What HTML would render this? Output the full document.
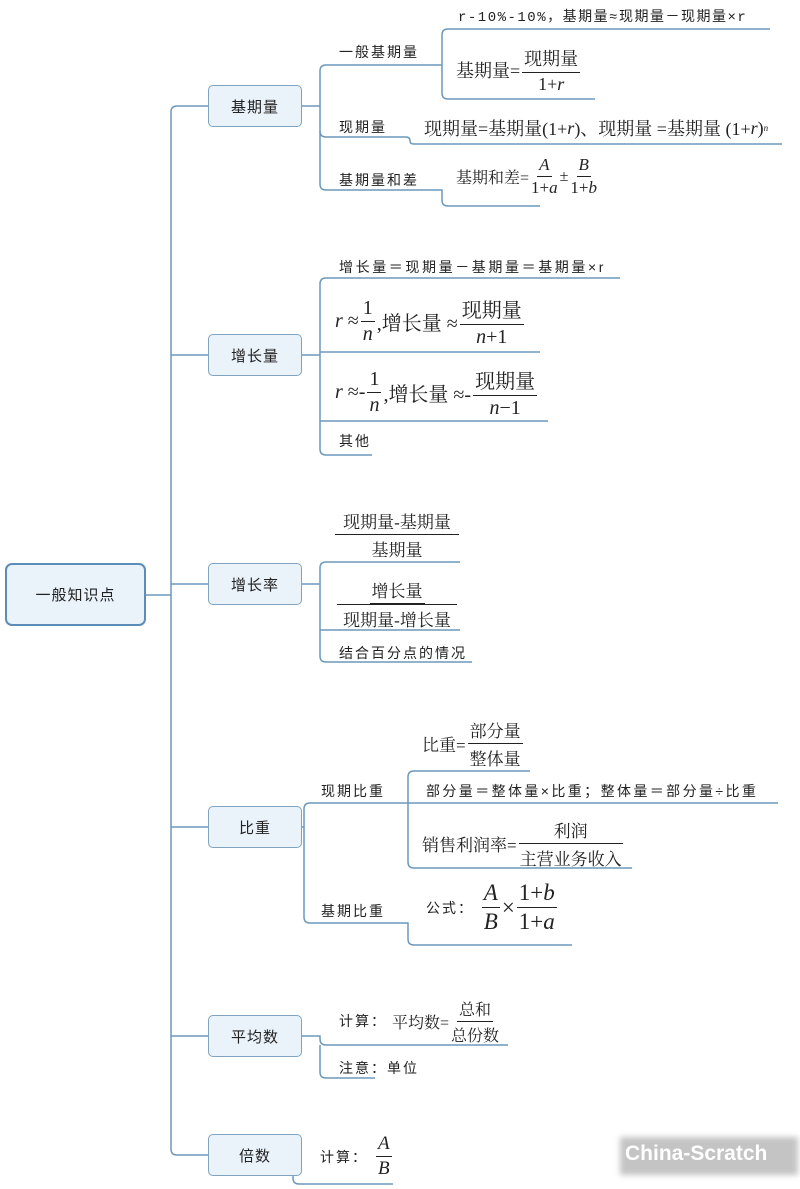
<!DOCTYPE html>
<html><head><meta charset="utf-8"><style>
html,body{margin:0;padding:0;background:#fff;}
body{width:800px;height:1189px;position:relative;overflow:hidden;font-family:"Liberation Sans","Noto Sans CJK SC",sans-serif;color:#222;}
.t{position:absolute;white-space:nowrap;font-size:14px;line-height:16px;letter-spacing:2px;}
.f{position:absolute;white-space:nowrap;font-family:"Liberation Serif","Noto Serif CJK SC",serif;font-size:17px;display:flex;align-items:center;}
.fr{display:inline-flex;flex-direction:column;align-items:center;margin:0 2px;}
.fr>span:first-child{border-bottom:1px solid #222;padding:0 2px 1px;}
.fr>span:last-child{padding-top:1px;}
i{font-family:"Liberation Serif",serif;font-style:italic;}
.box{position:absolute;width:92px;height:40px;border:1px solid #7fa3c0;border-radius:5px;background:#eaf2fa;font-size:15px;display:flex;align-items:center;justify-content:center;letter-spacing:1px;}
</style></head><body>
<svg width="800" height="1189" style="position:absolute;left:0;top:0" fill="none" stroke="#6b98bb" stroke-width="1.5">
<path d="M145 595 H171"/>
<path d="M208 106 H177 Q171 106 171 112 V1149 Q171 1155 177 1155 H208"/>
<path d="M171 355 H208 M171 584 H208 M171 827 H208 M171 1036 H208"/>
<path d="M302 106 H320 M326 65 Q320 65 320 71 V184 Q320 190 326 190 H442 V200 Q442 206 448 206 H540"/>
<path d="M326 65 H442 M448 29 Q442 29 442 35 V93 Q442 99 448 99 H595 M448 29 H770"/>
<path d="M320 131 Q320 137 326 137 H406 Q410 137 410 141 Q410 144 414 144 H782"/>
<path d="M302 355 H320 M326 278 Q320 278 320 284 V449 Q320 455 326 455 H372"/>
<path d="M326 278 H620 M320 352 H540 M320 421 H548"/>
<path d="M302 584 H320 M326 562 Q320 562 320 568 V656 Q320 662 326 662 H472"/>
<path d="M326 562 H460 M320 630 H460"/>
<path d="M302 827 H304 M310 803 Q304 803 304 809 V917 Q304 923 310 923 H408 V939 Q408 945 414 945 H572"/>
<path d="M310 803 H408 M414 771 Q408 771 408 777 V862 Q408 868 414 868 H632 M414 771 H530 M408 803 H778"/>
<path d="M302 1036 H320 V1039 Q320 1045 326 1045 H508 M320 1045 V1072 Q320 1078 326 1078 H375"/>
<path d="M288 1155 H277 M288 1155 Q293 1155 293 1160 V1178 Q293 1184 299 1184 H393"/>
</svg>
<div class="box" style="left:5px;top:563px;width:137px;height:59px;border:2.5px solid #5b8db8;border-radius:7px;font-size:15px;">一般知识点</div>
<div class="box" style="left:208px;top:85px">基期量</div>
<div class="box" style="left:208px;top:334px">增长量</div>
<div class="box" style="left:208px;top:563px">增长率</div>
<div class="box" style="left:208px;top:806px">比重</div>
<div class="box" style="left:208px;top:1015px">平均数</div>
<div class="box" style="left:208px;top:1134px">倍数</div>

<div class="t" style="left:339px;top:44px">一般基期量</div>
<div class="t" style="left:458px;top:10px;font-family:'Liberation Mono','Noto Sans CJK SC',monospace;font-size:14px;letter-spacing:1.5px">r-10%-10%，基期量≈现期量－现期量×r</div>
<div class="f" style="left:456px;top:45px;font-size:18px"><span>基期量=</span><span class="fr"><span>现期量</span><span>1+<i>r</i></span></span></div>
<div class="t" style="left:339px;top:119px">现期量</div>
<div class="f" style="left:424px;top:115px;font-size:18px">现期量=基期量(1+<i>r</i>)、现期量 =基期量 (1+<i>r</i>)<sup style="font-size:9px"><i>n</i></sup></div>
<div class="t" style="left:339px;top:172px">基期量和差</div>
<div class="f" style="left:456px;top:155px;font-size:16px"><span>基期和差=</span><span class="fr" style="font-size:17px"><span><i>A</i></span><span>1+<i>a</i></span></span><span>±</span><span class="fr" style="font-size:17px"><span><i>B</i></span><span>1+<i>b</i></span></span></div>

<div class="t" style="left:339px;top:259px;letter-spacing:2.6px">增长量＝现期量－基期量＝基期量×r</div>
<div class="f" style="left:335px;top:294px;font-size:20px"><i>r</i>&nbsp;≈<span class="fr"><span>1</span><span><i>n</i></span></span>,增长量 ≈<span class="fr"><span>现期量</span><span><i>n</i>+1</span></span></div>
<div class="f" style="left:335px;top:365px;font-size:20px"><i>r</i>&nbsp;≈-<span class="fr"><span>1</span><span><i>n</i></span></span>,增长量 ≈-<span class="fr"><span>现期量</span><span><i>n</i>−1</span></span></div>
<div class="t" style="left:339px;top:433px">其他</div>

<div class="f" style="left:333px;top:508px;font-size:17px"><span class="fr" style="width:124px"><span style="width:120px;text-align:center">现期量-基期量</span><span>基期量</span></span></div>
<div class="f" style="left:333px;top:577px;font-size:17px"><span class="fr" style="width:124px"><span>增长量</span><span style="border-top:1px solid #222;width:120px;text-align:center">现期量-增长量</span></span></div>
<div class="t" style="left:339px;top:645px">结合百分点的情况</div>

<div class="f" style="left:422px;top:717px;font-size:17px"><span>比重=</span><span class="fr"><span>部分量</span><span>整体量</span></span></div>
<div class="t" style="left:321px;top:783px">现期比重</div>
<div class="t" style="left:426px;top:783px;letter-spacing:2.4px">部分量＝整体量×比重；整体量＝部分量÷比重</div>
<div class="f" style="left:422px;top:817px;font-size:17px"><span>销售利润率=</span><span class="fr"><span style="width:100px;text-align:center">利润</span><span>主营业务收入</span></span></div>
<div class="t" style="left:321px;top:903px">基期比重</div>
<div class="f" style="left:426px;top:880px;font-size:23px"><span style="font-size:14px;font-family:'Liberation Sans','Noto Sans CJK SC',sans-serif;letter-spacing:2px">公式：</span>&nbsp;<span class="fr"><span><i>A</i></span><span><i>B</i></span></span>×<span class="fr"><span>1+<i>b</i></span><span>1+<i>a</i></span></span></div>

<div class="t" style="left:339px;top:1013px">计算：</div>
<div class="f" style="left:392px;top:997px;font-size:16px"><span>平均数=</span><span class="fr"><span>总和</span><span>总份数</span></span></div>
<div class="t" style="left:339px;top:1060px">注意：单位</div>
<div class="t" style="left:320px;top:1149px">计算：</div>
<div class="f" style="left:374px;top:1133px;font-size:19px"><span class="fr"><span><i>A</i></span><span><i>B</i></span></span></div>

<div style="position:absolute;left:620px;top:1137px;width:178px;height:38px;background:#c4c4c4;filter:blur(3px);"></div>
<div style="position:absolute;left:625px;top:1142px;font-family:'Liberation Sans',sans-serif;font-weight:bold;font-size:21px;color:#fff;">China-Scratch</div>
</body></html>
